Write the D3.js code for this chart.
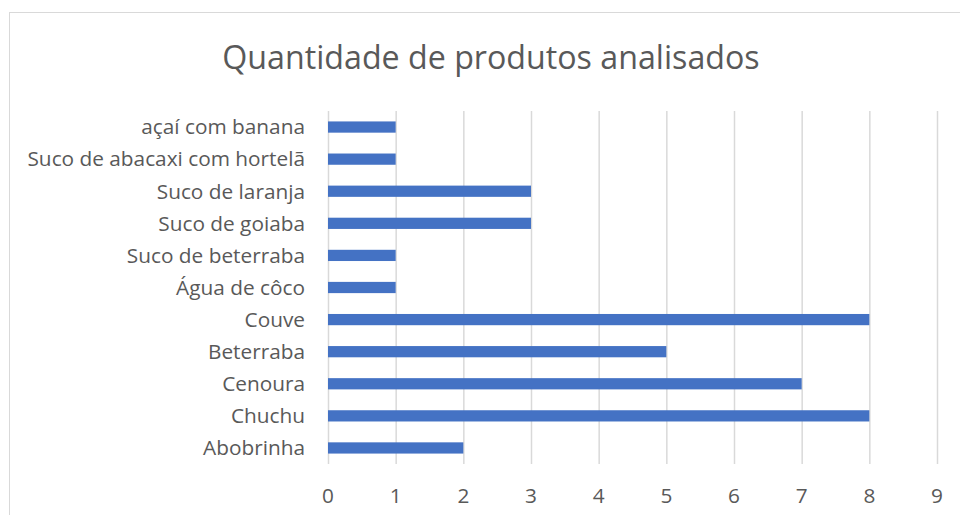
<!DOCTYPE html>
<html>
<head>
<meta charset="utf-8">
<script src="https://cdn.jsdelivr.net/npm/d3@7"></script>
<style>
  body { margin: 0; background: #fff; }
  svg { display: block; }
</style>
</head>
<body>
<script>
// data, top to bottom as in the chart
const categories = ["açaí com banana", "Suco de abacaxi com hortelã", "Suco de laranja", "Suco de goiaba",
  "Suco de beterraba", "Água de côco", "Couve", "Beterraba", "Cenoura", "Chuchu", "Abobrinha"]
const quantities = [1, 1, 3, 3, 1, 1, 8, 5, 7, 8, 2]
const xTicks = [0, 1, 2, 3, 4, 5, 6, 7, 8, 9]

const width = 960, height = 515
const font = "'Open Sans', 'Noto Sans', sans-serif"
const textColor = "#595959"

const svg = d3.select("body").append("svg")
    .attr("width", width)
    .attr("height", height)

// chart area border
svg.append("rect")
    .attr("x", 9.5).attr("y", 12.5)
    .attr("width", 980).attr("height", 540)
    .attr("fill", "#fff")
    .attr("stroke", "#d9d9d9")

svg.append("text")
    .attr("x", 491).attr("y", 69)
    .attr("text-anchor", "middle")
    .attr("font-family", font)
    .attr("font-size", 32.2)
    .attr("fill", textColor)
    .text("Quantidade de produtos analisados")

const x = d3.scaleLinear().domain([0, 9]).range([328, 937])
const y = d3.scaleBand().domain(categories).range([111, 464]).paddingInner(0.65).paddingOuter(0.325)

// gridlines
svg.append("g")
    .selectAll("line")
    .data(xTicks)
    .join("line")
    .attr("x1", d => x(d) + 0.5).attr("x2", d => x(d) + 0.5)
    .attr("y1", 111).attr("y2", 464)
    .attr("stroke", "#d9d9d9")
    .attr("stroke-width", 1.5)

// bars
svg.append("g")
    .selectAll("rect")
    .data(categories)
    .join("rect")
    .attr("x", x(0))
    .attr("y", d => y(d))
    .attr("width", (d, i) => x(quantities[i]) - x(0))
    .attr("height", y.bandwidth())
    .attr("fill", "#4472c4")

// category labels
svg.append("g")
    .selectAll("text")
    .data(categories)
    .join("text")
    .attr("x", 305)
    .attr("y", d => y(d) + y.bandwidth() / 2)
    .attr("dy", "0.35em")
    .attr("text-anchor", "end")
    .attr("font-family", font)
    .attr("font-size", 20.8)
    .attr("fill", textColor)
    .text(d => d)

// x tick labels
svg.append("g")
    .selectAll("text")
    .data(xTicks)
    .join("text")
    .attr("x", d => x(d))
    .attr("y", 496)
    .attr("dy", "0.35em")
    .attr("text-anchor", "middle")
    .attr("font-family", font)
    .attr("font-size", 20.8)
    .attr("fill", textColor)
    .text(d => d)
</script>
</body>
</html>
